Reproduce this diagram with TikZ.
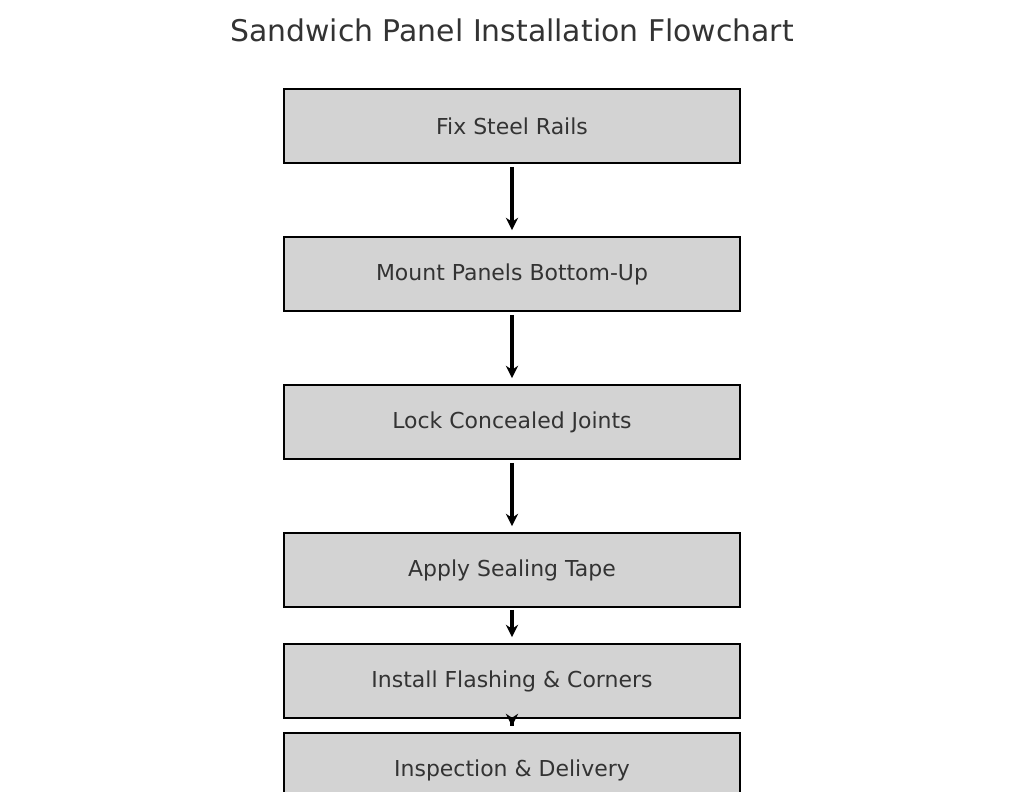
\documentclass[tikz,border=0pt]{standalone}
\usepackage{fontspec}
\setmainfont{DejaVu Sans}
\usetikzlibrary{arrows.meta}
\definecolor{boxgray}{HTML}{D3D3D3}
\definecolor{textgray}{HTML}{333333}
\tikzset{stage/.style={draw=black, fill=boxgray, line width=1.1pt, minimum width=9.12cm, minimum height=1.48cm, text=textgray, font=\fontsize{12.5}{14}\selectfont},
  flow/.style={-{Stealth[length=7pt,width=7pt]}, line width=2pt, shorten <=0.06cm, shorten >=0.12cm}}

\begin{document}
\begin{tikzpicture}[x=0.02cm, y=-0.02cm]
  \useasboundingbox (0,0) rectangle (1024,808);
  \node[text=textgray, font=\fontsize{17}{20}\selectfont] (title) at (512,30) {Sandwich Panel Installation Flowchart};
  \clip (0,0) rectangle (1024,791);
  \node[stage] (rails) at (512,126) {Fix Steel Rails};
  \node[stage] (mount) at (512,274) {Mount Panels Bottom-Up};
  \node[stage] (lock) at (512,422) {Lock Concealed Joints};
  \node[stage] (seal) at (512,570) {Apply Sealing Tape};
  \node[stage] (flash) at (512,681) {Install Flashing \& Corners};
  \node[stage] (inspect) at (512,770) {Inspection \& Delivery};

  \draw[flow] (rails) -- (mount);
  \draw[flow] (mount) -- (lock);
  \draw[flow] (lock) -- (seal);
  \draw[flow, shorten <=0.04cm] (seal) -- (flash);
  \draw[flow, shorten <=-0.14cm] (flash) -- (inspect);
\end{tikzpicture}
\end{document}
